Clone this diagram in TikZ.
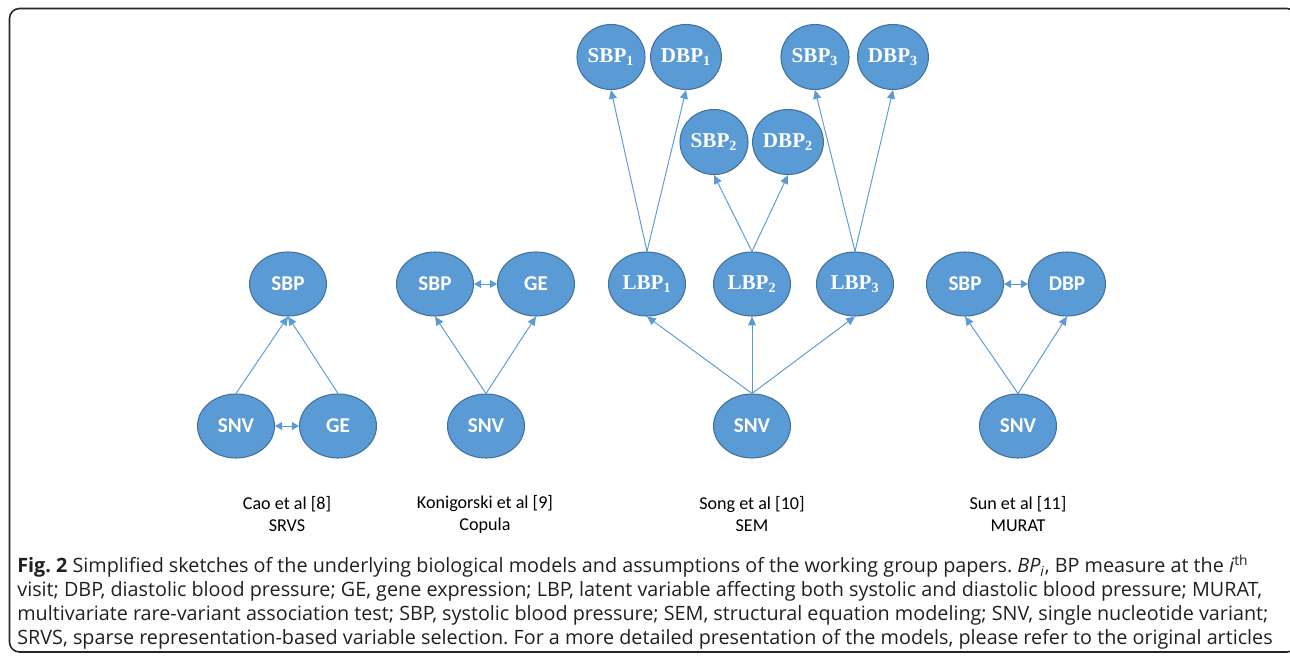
\documentclass[tikz,border=0pt]{standalone}
\usepackage{fontspec}
\setmainfont{Open Sans}
\newfontfamily\calibri{Carlito}
\newfontfamily\cambria{Liberation Serif}
\usetikzlibrary{shapes,arrows.meta,positioning}
\definecolor{nodeblue}{HTML}{5B9BD5}
\definecolor{rimblue}{HTML}{41719C}
\definecolor{captext}{HTML}{231F20}
\frenchspacing

\begin{document}
\begin{tikzpicture}[
        var/.style={ellipse, draw=rimblue, fill=nodeblue, line width=0.6pt, minimum width=1.54cm, minimum height=1.28cm, inner sep=0pt, text=white, font=\calibri\bfseries\fontsize{12}{13}\selectfont},
        lat/.style={var, font=\cambria\bfseries\fontsize{12}{13}\selectfont},
        obs/.style={lat, minimum width=1.36cm, minimum height=1.30cm},
        link/.style={-{Triangle[length=5pt,width=4.5pt]}, draw=nodeblue, line width=0.55pt},
        both/.style={{Triangle[length=4pt,width=4.5pt]}-{Triangle[length=4pt,width=4.5pt]}, draw=nodeblue, line width=0.55pt},
        cite/.style={align=center, font=\calibri\fontsize{10.3}{12.5}\selectfont, text=black},
    ]
        \useasboundingbox (0,0) rectangle (25.8,-13.1);
        \draw[line width=0.9pt, rounded corners=0.2cm, black!85] (0.19,-0.17) rectangle (25.94,-13.04);

        % Cao et al: SRVS
        \node[var] (sbpA) at (5.76,-5.68) {SBP};
        \node[var] (snvA) at (4.72,-8.52) {SNV};
        \node[var] (geA) at (6.76,-8.52) {GE};
        \draw[link] (snvA.north) -- (sbpA.south);
        \draw[link] (geA.north) -- (sbpA.south);
        \draw[both] (snvA) -- (geA);
        \node[cite] (citeA) at (5.74,-10.28) {Cao et al [8]\\SRVS};

        % Konigorski et al: Copula
        \node[var] (sbpB) at (8.70,-5.68) {SBP};
        \node[var] (geB) at (10.72,-5.68) {GE};
        \node[var] (snvB) at (9.72,-8.52) {SNV};
        \draw[link] (snvB.north) -- (sbpB.south);
        \draw[link] (snvB.north) -- (geB.south);
        \draw[both] (sbpB) -- (geB);
        \node[cite] (citeB) at (9.70,-10.28) {Konigorski et al [9]\\Copula};

        % Song et al: SEM
        \node[lat] (lbp1) at (12.94,-5.68) {LBP\textsubscript{1}};
        \node[lat] (lbp2) at (15.04,-5.68) {LBP\textsubscript{2}};
        \node[lat] (lbp3) at (17.10,-5.68) {LBP\textsubscript{3}};
        \node[var] (snvC) at (15.04,-8.52) {SNV};
        \node[obs] (sbp1) at (12.22,-1.14) {SBP\textsubscript{1}};
        \node[obs] (dbp1) at (13.72,-1.14) {DBP\textsubscript{1}};
        \node[obs] (sbp2) at (14.28,-2.84) {SBP\textsubscript{2}};
        \node[obs] (dbp2) at (15.76,-2.84) {DBP\textsubscript{2}};
        \node[obs] (sbp3) at (16.30,-1.14) {SBP\textsubscript{3}};
        \node[obs] (dbp3) at (17.86,-1.14) {DBP\textsubscript{3}};
        \foreach \i in {1,2,3} {
            \draw[link] (snvC.north) -- (lbp\i.south);
            \draw[link] (lbp\i.north) -- (sbp\i.south);
            \draw[link] (lbp\i.north) -- (dbp\i.south);
        }
        \node[cite] (citeC) at (15.04,-10.28) {Song et al [10]\\SEM};

        % Sun et al: MURAT
        \node[var] (sbpD) at (19.30,-5.68) {SBP};
        \node[var] (dbpD) at (21.34,-5.68) {DBP};
        \node[var] (snvD) at (20.36,-8.52) {SNV};
        \draw[link] (snvD.north) -- (sbpD.south);
        \draw[link] (snvD.north) -- (dbpD.south);
        \draw[both] (sbpD) -- (dbpD);
        \node[cite] (citeD) at (20.36,-10.28) {Sun et al [11]\\MURAT};

        % caption
        \node[anchor=north west, align=left, inner sep=0pt, text=captext, font=\fontsize{11.25}{13.6}\selectfont] (caption) at (0.34,-11.1)
            {\textbf{Fig. 2} Simplified sketches of the underlying biological models and assumptions of the working group papers. \textit{BP\textsubscript{i}}, BP measure at the \textit{i}\textsuperscript{th}\\
            visit; DBP, diastolic blood pressure; GE, gene expression; LBP, latent variable affecting both systolic and diastolic blood pressure; MURAT,\\
            multivariate rare-variant association test; SBP, systolic blood pressure; SEM, structural equation modeling; SNV, single nucleotide variant;\\
            SRVS, sparse representation-based variable selection. For a more detailed presentation of the models, please refer to the original articles};
    \end{tikzpicture}
\end{document}
